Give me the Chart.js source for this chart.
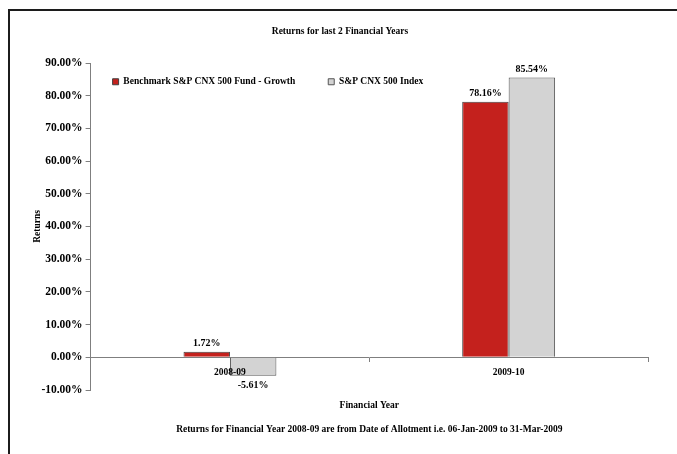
<!DOCTYPE html>
<html>
<head>
<meta charset="utf-8">
<script src="https://cdn.jsdelivr.net/npm/chart.js@4/dist/chart.umd.min.js"></script>
<style>
  html, body { margin: 0; padding: 0; background: #ffffff; }
  #wrap { position: relative; width: 677px; height: 454px; overflow: hidden; }
  #frame { position: absolute; left: 8px; top: 9px; width: 700px; height: 480px;
           border-left: 2px solid #1c1c1c; border-top: 2px solid #1c1c1c; }
  #c { position: absolute; left: 0; top: 0; }
</style>
</head>
<body>
<div id="wrap">
  <div id="frame"></div>
  <canvas id="c" width="677" height="454"></canvas>
</div>
<script>
const chartTitle = 'Returns for last 2 Financial Years';
const categories = ['2008-09', '2009-10'];
const seriesNames = ['Benchmark S&P CNX 500 Fund - Growth', 'S&P CNX 500 Index'];
const fundReturns = [1.72, 78.16];
const indexReturns = [-5.61, 85.54];
const yMin = -10;
const yMax = 90;
const yStep = 10;
const yAxisTitle = 'Returns';
const xAxisTitle = 'Financial Year';
const footnote = 'Returns for Financial Year 2008-09 are from Date of Allotment i.e. 06-Jan-2009 to 31-Mar-2009';

const SERIF = "'Liberation Serif', 'Times New Roman', serif";
Chart.defaults.font.family = SERIF;
Chart.defaults.font.weight = 'bold';
Chart.defaults.color = '#000000';

const legendInside = {
  id: 'legendInside',
  beforeLayout(chart) {
    if (chart.legend) chart.legend.isHorizontal = () => true;
  },
  afterLayout(chart) {
    const l = chart.legend;
    if (!l) return;
    const ca = chart.chartArea;
    const pad = l.options.labels.padding;
    l.left = ca.left + 22 - pad;
    l.right = l.left + l.width;
    l.top = ca.top + 14 - pad;
    l.bottom = l.top + l.height;
  }
};

const valueLabels = {
  id: 'valueLabels',
  afterDatasetsDraw(chart) {
    const ctx = chart.ctx;
    ctx.save();
    ctx.font = 'bold 10px ' + SERIF;
    ctx.fillStyle = '#000000';
    ctx.textAlign = 'center';
    ctx.textBaseline = 'middle';
    chart.data.datasets.forEach((ds, di) => {
      const meta = chart.getDatasetMeta(di);
      meta.data.forEach((el, i) => {
        const v = ds.data[i];
        const txt = v.toFixed(2) + '%';
        const y = v >= 0 ? el.y - 8 : el.y + 10;
        ctx.fillText(txt, el.x, y);
      });
    });
    ctx.restore();
  }
};

new Chart(document.getElementById('c'), {
  type: 'bar',
  data: {
    labels: categories,
    datasets: [
      { label: seriesNames[0], data: fundReturns, backgroundColor: '#C4211D',
        borderColor: '#404040', borderWidth: 1 },
      { label: seriesNames[1], data: indexReturns, backgroundColor: '#D3D3D3',
        borderColor: '#555555', borderWidth: 1 }
    ]
  },
  options: {
    responsive: false,
    devicePixelRatio: 1,
    animation: false,
    categoryPercentage: 0.3333,
    barPercentage: 1.0,
    layout: { padding: { left: 32, right: 29, top: 0, bottom: 0 } },
    plugins: {
      title: {
        display: true, text: chartTitle, color: '#000000',
        font: { size: 9.5, weight: 'bold', family: SERIF, lineHeight: 1.2 },
        padding: { top: 26, bottom: 25.6 }
      },
      legend: {
        display: true,
        position: 'chartArea',
        align: 'start',
        labels: {
          boxWidth: 6, boxHeight: 6, padding: 33, color: '#000000',
          font: { size: 9.5, weight: 'bold', family: SERIF }
        }
      },
      tooltip: { enabled: false }
    },
    scales: {
      x: {
        type: 'category',
        position: { y: 0 },
        grid: { display: true, drawOnChartArea: false, drawTicks: true, tickLength: 4,
                color: '#7f7f7f', offset: true },
        border: { display: true, color: '#7f7f7f', width: 1 },
        ticks: { color: '#000000', padding: 6, maxRotation: 0, z: 1,
                 font: { size: 9.5, weight: 'bold', family: SERIF } }
      },
      x2: {
        type: 'category',
        position: 'bottom',
        grid: { display: false, drawTicks: false },
        border: { display: false },
        ticks: { display: false },
        title: {
          display: true, text: [xAxisTitle, footnote], color: '#000000',
          font: { size: 9.5, weight: 'bold', family: SERIF, lineHeight: 2.526 },
          padding: { top: 4, bottom: 12 }
        }
      },
      y: {
        min: yMin, max: yMax,
        grid: { display: true, drawOnChartArea: false, drawTicks: true, tickLength: 5,
                color: '#7f7f7f' },
        border: { display: true, color: '#7f7f7f', width: 1 },
        ticks: { stepSize: yStep, padding: 3, color: '#000000',
                 font: { size: 11.5, weight: 'bold', family: SERIF },
                 callback: (v) => Number(v).toFixed(2) + '%' },
        title: {
          display: true, text: yAxisTitle, color: '#000000',
          font: { size: 9.5, weight: 'bold', family: SERIF, lineHeight: 1.2 },
          padding: { top: 0, bottom: -5 }
        }
      }
    }
  },
  plugins: [legendInside, valueLabels]
});
</script>
</body>
</html>
